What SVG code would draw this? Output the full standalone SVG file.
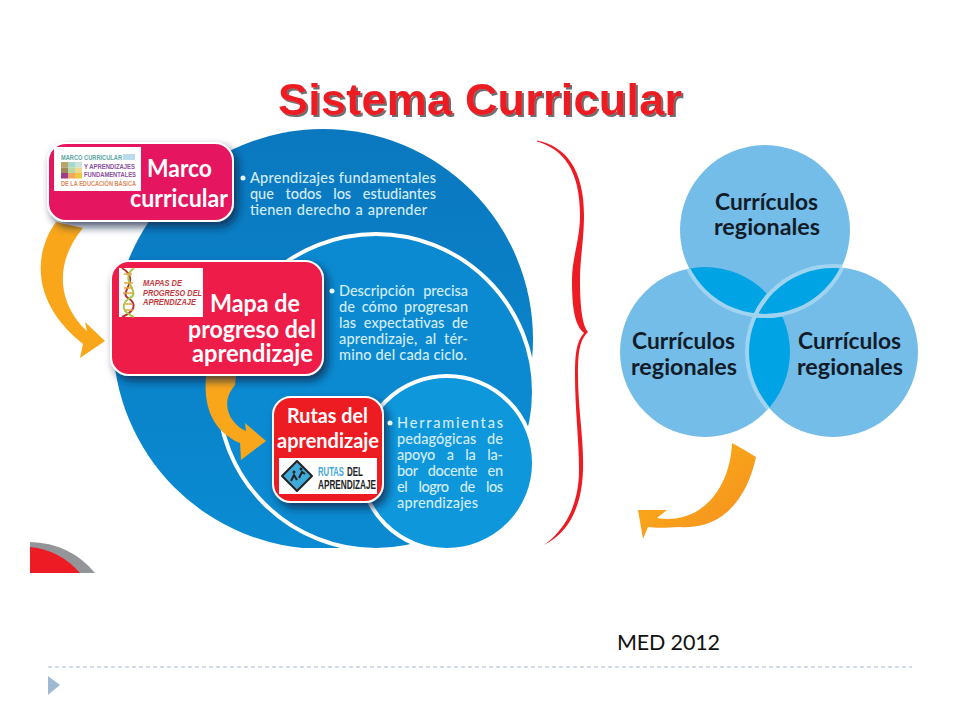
<svg xmlns="http://www.w3.org/2000/svg" width="960" height="720" viewBox="0 0 960 720">
<style>
.body{font-family:Lato,"Open Sans",sans-serif;font-size:14.500px;font-weight:500;fill:#d3edfa}
.head{font-family:Lato,"Open Sans",sans-serif;font-weight:700;fill:#fff}
.venn{font-family:Lato,"Open Sans",sans-serif;font-weight:700;font-size:22px;fill:#111c28}
.logo{font-family:"Liberation Sans",Arial,sans-serif;font-weight:700}
.arrow{fill:#f9a61a}
.vc{fill:#74bde9}
.ring{fill:none;stroke:#9fd3ef;stroke-width:4}
.bul{fill:#e8f6fc}
</style>
<defs>
<filter id="sh" x="-20%" y="-20%" width="140%" height="140%"><feDropShadow dx="4" dy="5" stdDeviation="4" flood-color="#0b2440" flood-opacity=".75"/></filter>
<filter id="ts" x="-5%" y="-20%" width="110%" height="140%"><feDropShadow dx="2" dy="2" stdDeviation="0.4" flood-color="#6d6e71" flood-opacity="1"/></filter>
<linearGradient id="bigG" x1="0" y1="0" x2="0" y2="1"><stop offset="0" stop-color="#0a78bf"/><stop offset="1" stop-color="#0a8bd2"/></linearGradient>
<linearGradient id="a3G" x1="0" y1="0" x2="1" y2="1"><stop offset="0" stop-color="#fbb116"/><stop offset="1" stop-color="#f58f20"/></linearGradient>
<clipPath id="flat"><rect x="0" y="0" width="960" height="548"/></clipPath>
<clipPath id="cT"><circle cx="765" cy="230" r="85"/></clipPath>
<clipPath id="cL"><circle cx="705" cy="352" r="85"/></clipPath>
<clipPath id="cR"><circle cx="833" cy="352" r="85"/></clipPath>
</defs>
<rect width="960" height="720" fill="#fff"/>

<g id="title">
<text x="278" y="115" font-family="'Liberation Sans',Arial,sans-serif" font-weight="700" font-size="45" fill="#ed1c24" textLength="404" filter="url(#ts)">Sistema Curricular</text>
</g>

<g id="corner">
<path d="M30,542Q70,543 95,573L30,573Z" fill="#939598"/>
<path d="M30,547Q60,550 80,573L30,573Z" fill="#ed1c24"/>
</g>

<g id="circles">
<g clip-path="url(#flat)">
<circle cx="323" cy="339" r="210" fill="url(#bigG)"/>
<circle cx="376" cy="392" r="158" fill="#0b8ad1" stroke="#fff" stroke-width="4"/>
</g>
<circle cx="447" cy="463" r="87" fill="#0f97dc" stroke="#fff" stroke-width="4"/>
</g>

<g id="connectors">
<path class="arrow" d="M56,222C34,252 30,302 83,344L80,358L105,341L85,322L87,331C62,308 50,268 83,228Z"/>
<path class="arrow" d="M206,376C203,410 215,432 240,443L241,460L266,441L245,423L246,431C232,425 218,405 235,385L236,376Z"/>
<path fill="url(#a3G)" d="M732,443Q745,450 756,457C748,495 725,530 680,527C665,528 655,528 648,527L643,539L638,510L667,510L657,518C700,525 730,490 732,443Z"/>
</g>

<g id="marco">
<rect x="48" y="143" width="185" height="78" rx="18" fill="#e5175f" stroke="#fff" stroke-width="2" filter="url(#sh)"/>
<rect x="54" y="147" width="87" height="44" fill="#fff"/>
<g>
<rect x="61" y="162" width="7" height="5.500" fill="#b8a56a"/><rect x="68" y="162" width="7" height="5.500" fill="#a8d8c8"/><rect x="75" y="162" width="7" height="5.500" fill="#c8e4dc"/>
<rect x="61" y="167.500" width="7" height="5.500" fill="#9c8a5a"/><rect x="68" y="167.500" width="7" height="5.500" fill="#b8d8a8"/><rect x="75" y="167.500" width="7" height="5.500" fill="#f0d890"/>
<rect x="61" y="173" width="7" height="5.500" fill="#a03c8c"/><rect x="68" y="173" width="7" height="5.500" fill="#f0a860"/><rect x="75" y="173" width="7" height="5.500" fill="#f0c840"/>
<rect x="123" y="154" width="12" height="6" fill="#b8dcec"/>
</g>
<text class="logo" x="61" y="160" font-size="7.500" fill="#5aa5a0" textLength="61" lengthAdjust="spacingAndGlyphs">MARCO CURRICULAR</text>
<text class="logo" x="84" y="168.500" font-size="7.500" fill="#8c4fa0" textLength="51" lengthAdjust="spacingAndGlyphs">Y APRENDIZAJES</text>
<text class="logo" x="84" y="177" font-size="7.500" fill="#8c4fa0" textLength="52" lengthAdjust="spacingAndGlyphs">FUNDAMENTALES</text>
<text class="logo" x="61" y="186" font-size="7.500" fill="#d98a5a" textLength="75" lengthAdjust="spacingAndGlyphs">DE LA EDUCACIÓN BÁSICA</text>
<text class="head" x="147" y="177" font-size="24" textLength="65" lengthAdjust="spacingAndGlyphs">Marco</text>
<text class="head" x="130" y="207" font-size="24" textLength="98" lengthAdjust="spacingAndGlyphs">curricular</text>
</g>

<g id="mapa">
<rect x="111" y="261" width="212" height="114" rx="18" fill="#ee1c4a" stroke="#fff" stroke-width="2" filter="url(#sh)"/>
<rect x="119" y="268" width="84" height="49" fill="#fff"/>
<path d="M122,268C142,280 118,292 128,298C138,304 134,312 122,317" fill="none" stroke="#b5342f" stroke-width="2"/>
<path d="M134,268C118,280 142,292 130,298C120,304 122,312 134,317" fill="none" stroke="#a6c94a" stroke-width="2"/>
<path d="M124,274h8M124,283h9M124,288h9M123,293h10M125,304h7M125,310h8" stroke="#e8a23c" stroke-width="1.500" fill="none"/>
<g class="logo" font-style="italic" fill="#c33a3d">
<text x="143" y="286" font-size="9" textLength="39" lengthAdjust="spacingAndGlyphs">MAPAS DE</text>
<text x="143" y="295.500" font-size="9" textLength="59" lengthAdjust="spacingAndGlyphs">PROGRESO DEL</text>
<text x="143" y="305" font-size="9" textLength="53" lengthAdjust="spacingAndGlyphs">APRENDIZAJE</text>
</g>
<text class="head" x="210" y="312" font-size="25" textLength="90" lengthAdjust="spacingAndGlyphs">Mapa de</text>
<text class="head" x="188" y="338" font-size="25" textLength="128" lengthAdjust="spacingAndGlyphs">progreso del</text>
<text class="head" x="192" y="362" font-size="25" textLength="121" lengthAdjust="spacingAndGlyphs">aprendizaje</text>
</g>

<g id="rutas">
<rect x="273" y="397" width="110" height="105" rx="18" fill="#ed1c24" stroke="#fff" stroke-width="2" filter="url(#sh)"/>
<rect x="279" y="458" width="98" height="36" fill="#fff"/>
<path d="M297,461L312,476L297,491L282,476Z" fill="#3fa9d8" stroke="#222" stroke-width="2" stroke-linejoin="round"/>
<path d="M291,481l3,-6l3,5M299,478l3,-6l3,2" fill="none" stroke="#222" stroke-width="2"/>
<circle cx="294" cy="472" r="1.500" fill="#222"/><circle cx="301" cy="469" r="1.500" fill="#222"/>
<text class="logo" x="318" y="475.500" font-size="12.500" fill="#3fa9d8" textLength="26" lengthAdjust="spacingAndGlyphs">RUTAS</text>
<text class="logo" x="347" y="475.500" font-size="12.500" fill="#222" textLength="16" lengthAdjust="spacingAndGlyphs">DEL</text>
<text class="logo" x="318" y="488.500" font-size="12.500" fill="#222" textLength="58" lengthAdjust="spacingAndGlyphs">APRENDIZAJE</text>
<text class="head" x="287" y="423" font-size="20.500" textLength="81" lengthAdjust="spacingAndGlyphs">Rutas del</text>
<text class="head" x="277" y="448" font-size="20.500" textLength="102" lengthAdjust="spacingAndGlyphs">aprendizaje</text>
</g>

<g id="texto1">
<circle class="bul" cx="243" cy="178" r="2.500"/>
<text class="body" x="250" y="183" textLength="186">Aprendizajes fundamentales</text>
<text class="body" x="250" y="199" textLength="186" word-spacing="8">que todos los estudiantes</text>
<text class="body" x="250" y="215" textLength="177" word-spacing="1">tienen derecho  a aprender</text>
</g>
<g id="texto2">
<circle class="bul" cx="332" cy="291" r="2.500"/>
<text class="body" x="339" y="296" textLength="129" word-spacing="5">Descripción precisa</text>
<text class="body" x="339" y="312" textLength="129" word-spacing="3">de cómo progresan</text>
<text class="body" x="339" y="328" textLength="129" word-spacing="4">las expectativas de</text>
<text class="body" x="339" y="344" textLength="129" word-spacing="4">aprendizaje, al tér-</text>
<text class="body" x="339" y="360" textLength="128">mino del cada ciclo.</text>
</g>
<g id="texto3">
<circle class="bul" cx="390" cy="423" r="2.500"/>
<text class="body" x="397" y="428" textLength="106">Herramientas</text>
<text class="body" x="397" y="444" textLength="106" word-spacing="7">pedagógicas de</text>
<text class="body" x="397" y="460" textLength="106" word-spacing="8">apoyo a la la-</text>
<text class="body" x="397" y="476" textLength="106" word-spacing="7">bor docente en</text>
<text class="body" x="397" y="492" textLength="106" word-spacing="8">el logro de los</text>
<text class="body" x="397" y="508" textLength="81">aprendizajes</text>
</g>

<g id="brace">
<path fill="#ed1c24" d="M537,140.500C566,146 584,170 584,215C584,240 580,258 580,280C580,305 582,325 588,332C580,340 578,350 578,375C578,410 584,440 583,470C582,505 570,532 544,545C565,530 579,505 579,470C579,440 575,410 575,375C575,355 576,342 584,333C574,325 572,305 572,280C572,258 580,240 580,215C580,170 563,149 537,141.500Z"/>
</g>

<g id="venn">
<g id="venn-top"><circle class="vc" cx="765" cy="230" r="85"/></g>
<g id="venn-left"><circle class="vc" cx="705" cy="352" r="85"/></g>
<g id="venn-right"><circle class="vc" cx="833" cy="352" r="85"/></g>
<g clip-path="url(#cT)"><circle cx="705" cy="352" r="85" fill="#00a3e3"/><circle cx="833" cy="352" r="85" fill="#00a3e3"/></g>
<g clip-path="url(#cL)"><circle cx="833" cy="352" r="85" fill="#00a3e3"/></g>
<g clip-path="url(#cL)"><circle class="ring" cx="765" cy="230" r="86"/><circle class="ring" cx="833" cy="352" r="86"/></g>
<g clip-path="url(#cR)"><circle class="ring" cx="765" cy="230" r="86"/></g>
<g clip-path="url(#cT)"><circle class="ring" cx="833" cy="352" r="86"/></g>
<text class="venn" x="715" y="210" textLength="103" lengthAdjust="spacingAndGlyphs">Currículos</text>
<text class="venn" x="714" y="235" textLength="106" lengthAdjust="spacingAndGlyphs">regionales</text>
<text class="venn" x="632" y="349" textLength="103" lengthAdjust="spacingAndGlyphs">Currículos</text>
<text class="venn" x="631" y="375" textLength="106" lengthAdjust="spacingAndGlyphs">regionales</text>
<text class="venn" x="798" y="349" textLength="103" lengthAdjust="spacingAndGlyphs">Currículos</text>
<text class="venn" x="797" y="375" textLength="106" lengthAdjust="spacingAndGlyphs">regionales</text>
</g>

<g id="footer">
<text x="617" y="650" font-family="Lato,'Open Sans',sans-serif" font-size="21.500" fill="#111" textLength="103">MED 2012</text>
<line x1="48" y1="667" x2="912" y2="667" stroke="#a9bccd" stroke-width="1" stroke-dasharray="4 3"/>
<path d="M48,676L60,685L48,695Z" fill="#a0b9d2"/>
</g>
</svg>
